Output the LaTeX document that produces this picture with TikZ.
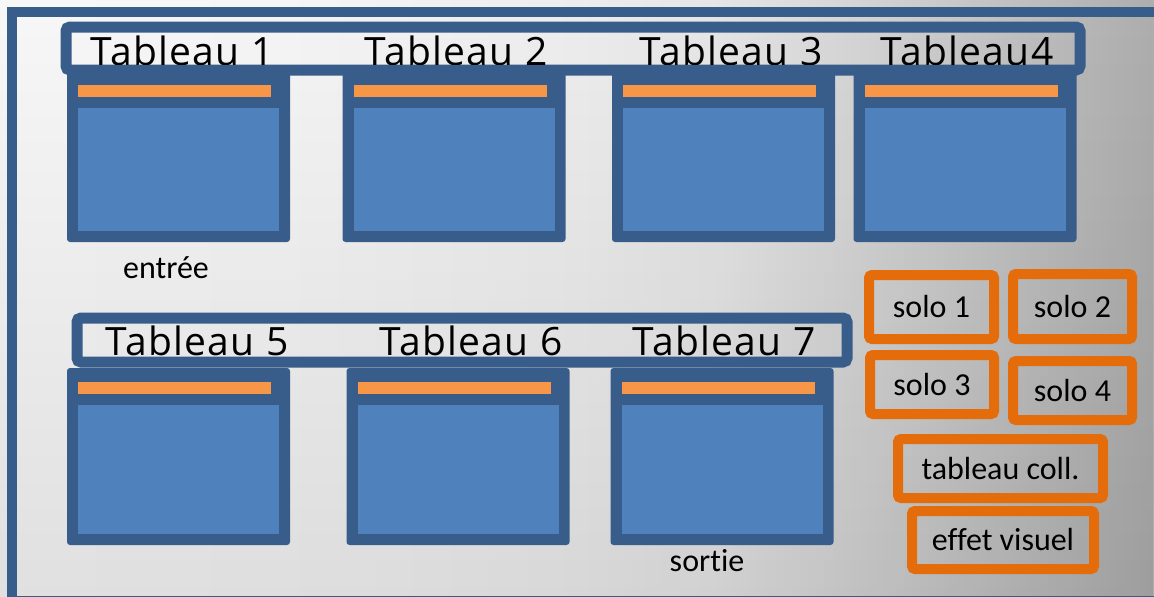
\documentclass[tikz,border=0pt]{standalone}
\usepackage{fontspec}
\usetikzlibrary{fadings}
\newfontfamily\titlefont[LetterSpace=3.5]{Open Sans}
\newfontfamily\labelfont[Ligatures=NoCommon]{Carlito}
\definecolor{frameblue}{HTML}{385D8A}
\definecolor{panelblue}{HTML}{4F81BD}
\definecolor{stripeorange}{HTML}{F79646}
\definecolor{soloorange}{HTML}{E46C0A}
\pgfdeclarehorizontalshading{bgshade}{100bp}{%
  color(0bp)=(white!97!black);
  color(25bp)=(white!97!black);
  color(37.5bp)=(white!96!black);
  color(50bp)=(white!93!black);
  color(56bp)=(white!90!black);
  color(62.5bp)=(white!83!black);
  color(75bp)=(white!68!black);
  color(100bp)=(white!68!black)}
\begin{document}
\begin{tikzpicture}[x=1pt,y=-1pt,
  winbox/.style={fill=frameblue, rounded corners=3pt, minimum width=223pt, minimum height=177pt,
    inner sep=0pt, outer sep=0pt,
    path picture={
      \fill[stripeorange, sharp corners] ([xshift=11pt,yshift=-#1pt]path picture bounding box.north west)
        rectangle ([xshift=-19pt,yshift=-#1pt-12pt]path picture bounding box.north east);
      \fill[panelblue, sharp corners] ([xshift=11pt,yshift=11pt]path picture bounding box.south west)
        rectangle ([xshift=-11pt,yshift=-#1pt-23pt]path picture bounding box.north east);
    }},
  labelbar/.style={draw=frameblue, line width=11pt, rounded corners=4pt, inner sep=0pt},
  solo/.style={draw=soloorange, line width=10pt, rounded corners=3pt, inner sep=0pt,
    font=\labelfont\fontsize{32}{32}\selectfont},
  title/.style={font=\titlefont\fontsize{39}{39}\selectfont, anchor=base, inner sep=0pt},
  caption/.style={font=\labelfont\fontsize{32}{32}\selectfont, anchor=base, inner sep=0pt}
]
\useasboundingbox (0,0) rectangle (1154,597);
\clip (0,0) rectangle (1154,597);
\shade[shading=bgshade] (0,0) rectangle (1154,597);
\fill[black, opacity=0.09, path fading=north] (0,0) rectangle (1154,597);
\draw[frameblue, line width=10pt] (12,12) rectangle (1175,601);

% label bars
\node[labelbar, minimum width=1014pt, minimum height=43pt] (topbar) at (573,48.5) {};
\node[labelbar, minimum width=770pt, minimum height=44pt] (botbar) at (462,340) {};

% titles
\node[title] (t1) at (182,65) {Tableau 1};
\node[title] (t2) at (456,65) {Tableau 2};
\node[title] (t3) at (731,65) {Tableau 3};
\node[title] (t4) at (967,65) {Tableau4};
\node[title] (t5) at (197,355) {Tableau 5};
\node[title] (t6) at (471,355) {Tableau 6};
\node[title] (t7) at (724,355) {Tableau 7};

% windows
\node[winbox=20] (b1) at (178.5,153.5) {};
\node[winbox=20] (b2) at (454,153.5) {};
\node[winbox=20] (b3) at (723.5,153.5) {};
\node[winbox=20] (b4) at (965,153.5) {};
\node[winbox=14] (b5) at (178.5,456.5) {};
\node[winbox=14] (b6) at (458,456.5) {};
\node[winbox=14] (b7) at (722,456.5) {};

% captions
\node[caption] (entree) at (166,278) {entrée};
\node[caption] (sortie) at (707,571) {sortie};

% solo boxes
\node[solo, minimum width=125pt, minimum height=64pt] (s1) at (931.5,307) {solo 1};
\node[solo, minimum width=119pt, minimum height=65pt] (s2) at (1072.5,306.5) {solo 2};
\node[solo, minimum width=124pt, minimum height=59pt] (s3) at (932,384.5) {solo 3};
\node[solo, minimum width=119pt, minimum height=59pt] (s4) at (1072.5,390.5) {solo 4};
\node[solo, minimum width=205pt, minimum height=59pt] (tc) at (1000.5,468.5) {tableau coll.};
\node[solo, minimum width=182pt, minimum height=58pt] (ev) at (1003,540) {effet visuel};
\end{tikzpicture}
\end{document}
